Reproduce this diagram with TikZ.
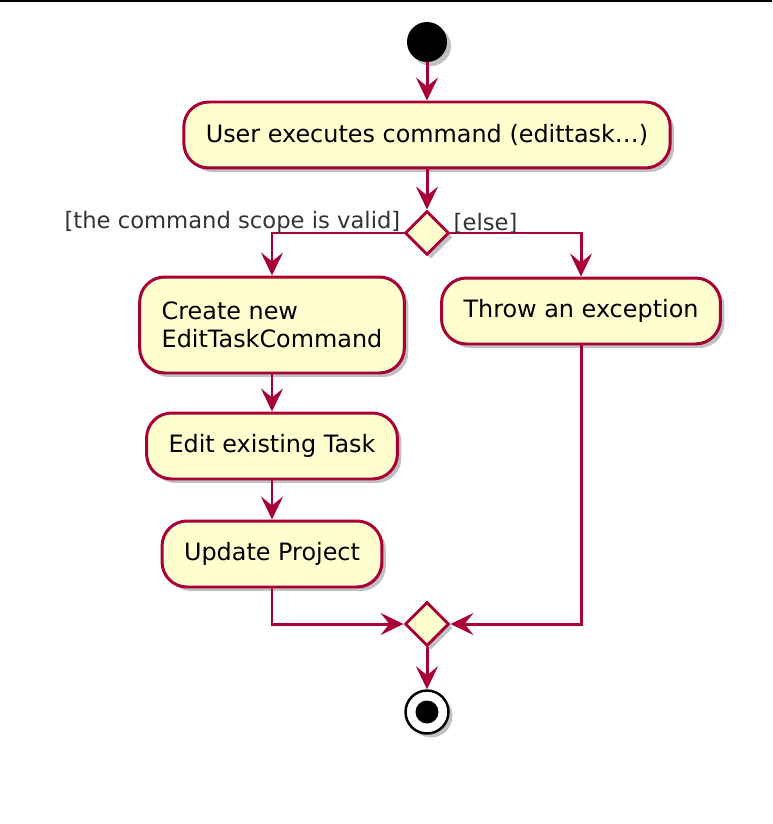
\documentclass[tikz,border=0pt]{standalone}
\usepackage{fontspec}
\setmainfont{DejaVu Sans}
\usepackage{tikz}
\usetikzlibrary{arrows.meta, positioning, shapes.geometric, shadows}
\definecolor{umlred}{HTML}{A80036}
\definecolor{umlfill}{HTML}{FEFECE}
\definecolor{guardgray}{HTML}{333333}
\tikzstyle{umlshadow} = [
  drop shadow={shadow xshift=0.08cm, shadow yshift=-0.08cm,
               opacity=0.35, fill=black!70}
]
\tikzstyle{activity} = [
  rectangle, rounded corners=0.5cm,
  minimum height=1.32cm, inner xsep=0.44cm,
  draw=umlred, line width=1.7pt, fill=umlfill, umlshadow,
  font=\fontsize{13.6}{15.9}\selectfont, align=left
]
\tikzstyle{decision} = [
  diamond, aspect=1, inner sep=0pt, minimum size=0.88cm,
  draw=umlred, line width=1.7pt, fill=umlfill, umlshadow
]
\tikzstyle{startnode} = [
  circle, inner sep=0pt, minimum size=0.8cm, fill=black, umlshadow
]
\tikzstyle{stopnode} = [
  circle, inner sep=0pt, minimum size=0.86cm, draw=black,
  line width=1.4pt, fill=white, umlshadow
]
\tikzstyle{guard} = [
  inner sep=0pt, text=guardgray, font=\fontsize{12.9}{15}\selectfont
]
\tikzstyle{flow} = [
  -{Stealth[length=0.46cm, width=0.44cm, inset=0.18cm]},
  line width=1.7pt, color=umlred
]

\begin{document}
\begin{tikzpicture}[x=0.02cm, y=-0.02cm]

  \useasboundingbox (0,0) rectangle (772,824);
  \fill[black] (0,0) rectangle (772,2);

  % -- start / first activity ----------------------------
  \node[startnode] (start) at (427,42) {};
  \node[activity, minimum width=9.7cm] (execute) at (427,135)
    {User executes command (edittask…)};

  % -- branch ----------------------------------------------
  \node[decision] (scopecheck) at (427,233) {};

  \node[activity, minimum width=5.2cm, minimum height=1.92cm]
    (create) at (272,325) {Create new\\EditTaskCommand};
  \node[activity, minimum width=5.54cm]
    (throw) at (581,311) {Throw an exception};
  \node[activity, minimum width=4.98cm]
    (edit) at (272,446) {Edit existing Task};
  \node[activity, minimum width=4.34cm]
    (update) at (272,554) {Update Project};

  % -- merge / stop ----------------------------------------
  \node[decision] (merge) at (427,624) {};
  \node[stopnode] (stop) at (427,712) {};
  \fill[black] (stop.center) circle (0.23cm);

  % -- arrows ----------------------------------------------
  \draw[flow] (start) -- (execute);
  \draw[flow] (execute) -- (scopecheck);
  \draw[flow] (scopecheck.west)
    node[guard, anchor=south east, xshift=-1pt, yshift=-1pt] (validlbl)
      {[the command scope is valid]}
    -| (create);
  \draw[flow] (scopecheck.east)
    node[guard, anchor=south west, xshift=1pt, yshift=-1pt] (elselbl)
      {[else]}
    -| (throw);
  \draw[flow] (create) -- (edit);
  \draw[flow] (edit) -- (update);
  \draw[flow] (update.south) |- (merge.west);
  \draw[flow] (throw.south) |- (merge.east);
  \draw[flow] (merge) -- (stop);

\end{tikzpicture}
\end{document}
